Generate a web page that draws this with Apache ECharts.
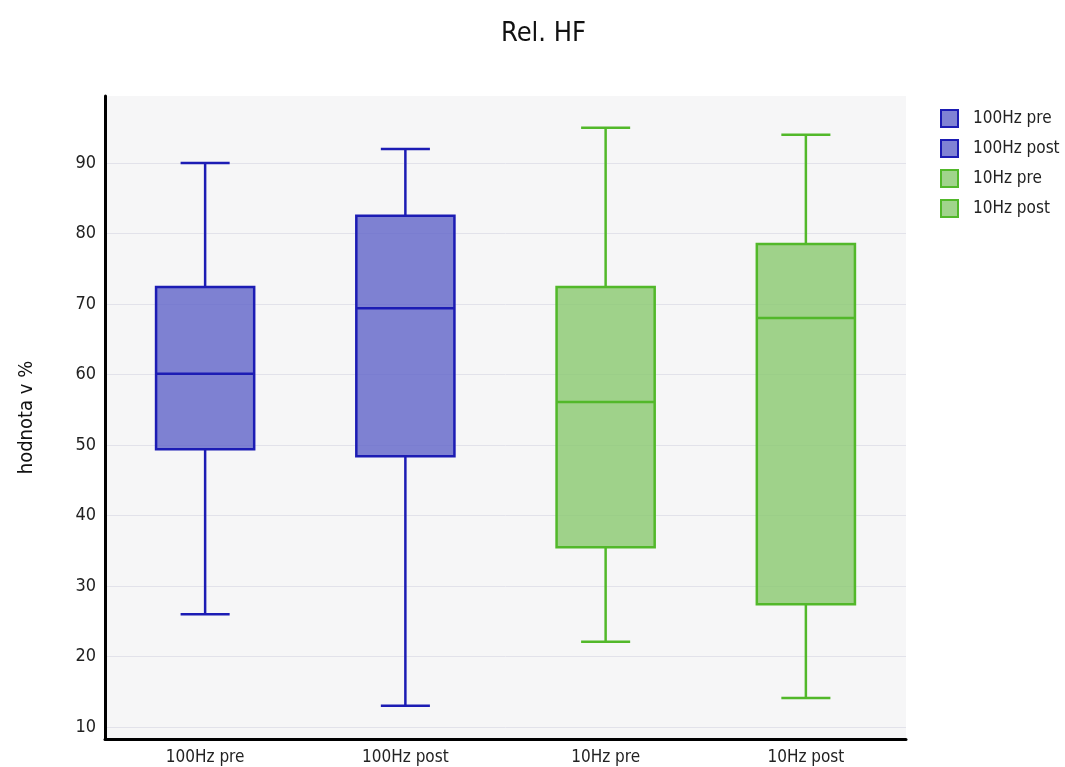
<!DOCTYPE html>
<html>
<head>
<meta charset="utf-8">
<script src="https://cdn.jsdelivr.net/npm/echarts@6/dist/echarts.min.js"></script>
<style>
  html, body { margin: 0; padding: 0; background: #ffffff; }
  #chart { width: 1065px; height: 767px; }
</style>
</head>
<body>
<div id="chart"></div>
<script>
// Box plot of relative HF power per condition
const categories = ['100Hz pre', '100Hz post', '10Hz pre', '10Hz post'];
// [min, Q1, median, Q3, max] per condition
const lowerWhisker = [26, 13, 22.1, 14.1];
const q1Values     = [49.4, 48.4, 35.5, 27.4];
const medianValues = [60.1, 69.4, 56.1, 68.0];
const q3Values     = [72.4, 82.5, 72.4, 78.5];
const upperWhisker = [90, 92, 95, 94];
const yTicks = [10, 20, 30, 40, 50, 60, 70, 80, 90];

const FONT = "'Liberation Sans Narrow', 'DejaVu Sans Condensed', sans-serif";
const styles = [
  { stroke: '#1c1cb4', fill: 'rgba(92, 96, 200, 0.78)' },
  { stroke: '#1c1cb4', fill: 'rgba(92, 96, 200, 0.78)' },
  { stroke: '#52b82a', fill: 'rgba(134, 200, 108, 0.78)' },
  { stroke: '#52b82a', fill: 'rgba(134, 200, 108, 0.78)' }
];

function renderBox(params, api) {
  const x = api.value(0);
  const lo = api.coord([x, api.value(1)]);
  const q1 = api.coord([x, api.value(2)]);
  const md = api.coord([x, api.value(3)]);
  const q3 = api.coord([x, api.value(4)]);
  const hi = api.coord([x, api.value(5)]);
  const band = api.size([1, 0])[0];
  const bw = band * 0.49;
  const cw = bw * 0.5;
  const cx = lo[0];
  const st = styles[params.seriesIndex];
  const lineStyle = { stroke: st.stroke, lineWidth: 2.5, fill: null };
  return {
    type: 'group',
    children: [
      { type: 'line', shape: { x1: cx, y1: hi[1], x2: cx, y2: q3[1] }, style: lineStyle },
      { type: 'line', shape: { x1: cx, y1: q1[1], x2: cx, y2: lo[1] }, style: lineStyle },
      { type: 'line', shape: { x1: cx - cw / 2, y1: hi[1], x2: cx + cw / 2, y2: hi[1] }, style: lineStyle },
      { type: 'line', shape: { x1: cx - cw / 2, y1: lo[1], x2: cx + cw / 2, y2: lo[1] }, style: lineStyle },
      { type: 'rect', shape: { x: cx - bw / 2, y: q3[1], width: bw, height: q1[1] - q3[1] },
        style: { fill: st.fill, stroke: st.stroke, lineWidth: 2.5 } },
      { type: 'line', shape: { x1: cx - bw / 2, y1: md[1], x2: cx + bw / 2, y2: md[1] }, style: lineStyle }
    ]
  };
}

const series = categories.map((name, i) => ({
  name: name,
  type: 'custom',
  renderItem: renderBox,
  itemStyle: { color: styles[i].fill, borderColor: styles[i].stroke, borderWidth: 2 },
  encode: { x: 0, y: [1, 2, 3, 4, 5] },
  data: [[i, lowerWhisker[i], q1Values[i], medianValues[i], q3Values[i], upperWhisker[i]]]
}));

const chart = echarts.init(document.getElementById('chart'), null, { renderer: 'canvas' });
chart.setOption({
  animation: false,
  backgroundColor: '#ffffff',
  textStyle: { fontFamily: FONT },
  title: {
    text: 'Rel. HF',
    left: 496,
    top: 15,
    textStyle: { fontFamily: FONT, fontSize: 27, fontWeight: 'normal', color: '#111111' }
  },
  legend: {
    orient: 'vertical',
    left: 935,
    top: 104,
    itemGap: 11,
    itemWidth: 17,
    itemHeight: 17,
    icon: 'rect',
    textStyle: { fontFamily: FONT, fontSize: 17, color: '#222222', padding: [0, 0, 0, 10] },
    data: categories
  },
  grid: { left: 105, right: 159, top: 96, bottom: 28, show: true, backgroundColor: '#f6f6f7', borderWidth: 0 },
  xAxis: {
    type: 'category',
    data: categories,
    axisLine: { show: true, lineStyle: { color: '#000000', width: 3 } },
    axisTick: { show: false },
    axisLabel: { fontFamily: FONT, fontSize: 17, color: '#222222', margin: 10 },
    splitLine: { show: false }
  },
  yAxis: {
    type: 'value',
    min: 8.3,
    max: 99.5,
    name: 'hodnota v %',
    nameLocation: 'middle',
    nameGap: 68,
    nameTextStyle: { fontFamily: FONT, fontSize: 20, color: '#111111' },
    axisLine: { show: true, lineStyle: { color: '#000000', width: 3 } },
    axisTick: { show: false, customValues: yTicks },
    axisLabel: { customValues: yTicks, fontFamily: FONT, fontSize: 18, color: '#222222', margin: 9 },
    splitLine: { show: true, lineStyle: { color: '#e2e2ea', width: 1 } }
  },
  series: series
});
</script>
</body>
</html>
